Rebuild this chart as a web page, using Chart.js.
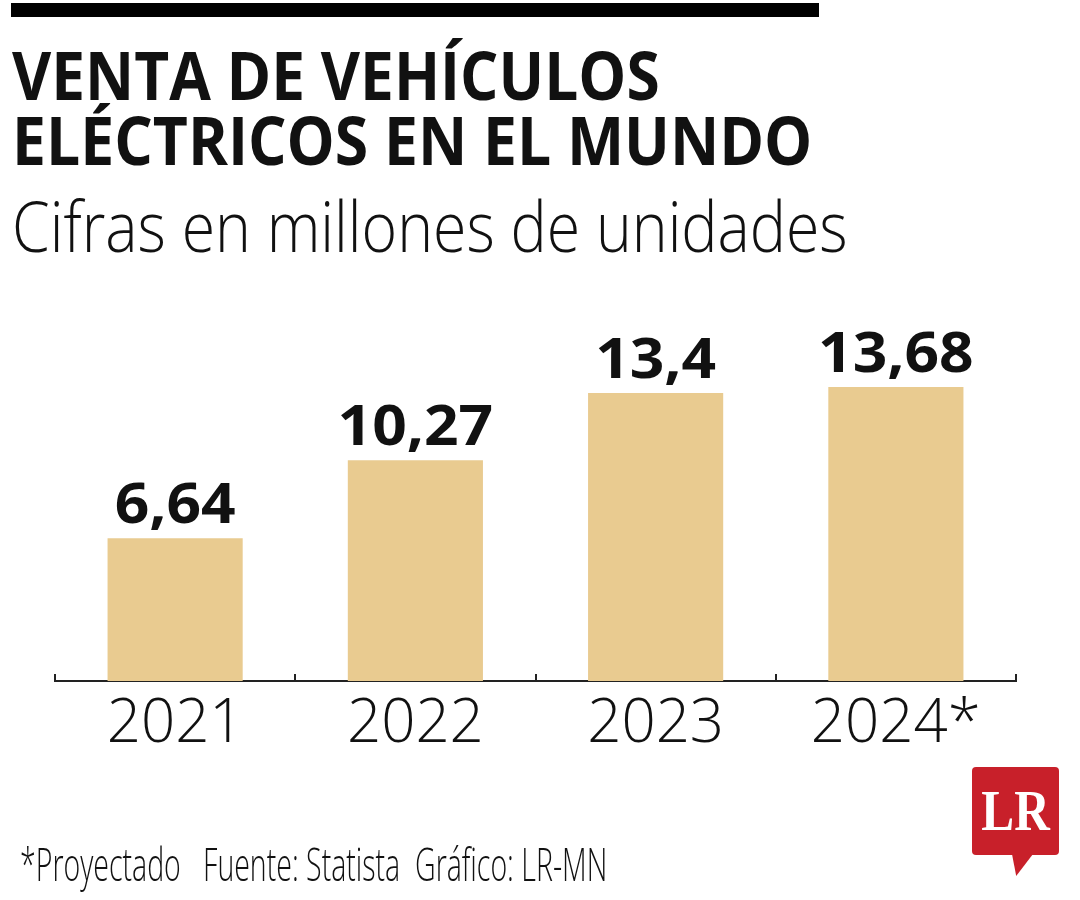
<!DOCTYPE html>
<html lang="es">
<head>
<meta charset="utf-8">
<title>Venta de vehículos eléctricos en el mundo</title>
<script src="https://cdn.jsdelivr.net/npm/chart.js@4"></script>
<style>
  html, body { margin: 0; padding: 0; background: #fff; }
  body { width: 1080px; height: 900px; position: relative; overflow: hidden; font-family: "Open Sans", sans-serif; }
  #chart { position: absolute; left: 0; top: 0; }
  .txt { position: absolute; left: 12px; white-space: nowrap; line-height: 1; color: #111; transform-origin: 0 0; }
  #topbar { position: absolute; left: 11px; top: 3px; width: 808px; height: 14px; background: #000; }
  #t1 { top: 41px; font-size: 66px; font-weight: 700; }
  #t2 { top: 106px; font-size: 66px; font-weight: 700; }
  #sub { top: 190px; font-size: 70px; font-weight: 300; }
  #foot { left: 20px; top: 840px; font-size: 46px; font-weight: 300; }
  #logo { position: absolute; left: 972px; top: 767px; width: 87px; height: 88px; background: #c8202a; border-radius: 4px; }
  #logo span { position: absolute; left: 0; width: 87px; top: 15px; text-align: center; font-family: "Liberation Serif", serif; font-weight: 700; font-size: 58px; line-height: 1; color: #fff; transform: scaleX(0.85); }
  #tail { position: absolute; left: 1012px; top: 854px; width: 21px; height: 22px; background: #c8202a; clip-path: polygon(0 0, 100% 0, 20% 100%); }
</style>
</head>
<body>
<canvas id="chart" width="1080" height="900"></canvas>
<div id="topbar"></div>
<div class="txt" id="t1">VENTA DE VEHÍCULOS</div>
<div class="txt" id="t2">ELÉCTRICOS EN EL MUNDO</div>
<div class="txt" id="sub">Cifras en millones de unidades</div>
<div class="txt" id="foot">*Proyectado&nbsp;&nbsp;&nbsp;Fuente: Statista&nbsp;&nbsp;Gráfico: LR-MN</div>
<div id="logo"><span>LR</span></div>
<div id="tail"></div>
<script>
// Datos: ventas en millones de unidades
const years = ['2021', '2022', '2023', '2024*'];
const ventas = [6.64, 10.27, 13.4, 13.68];
const yMax = 18;

// ajustar ancho de los textos al original
function fitWidth(id, w) {
    const el = document.getElementById(id);
    el.style.transform = 'scaleX(' + (w / el.offsetWidth) + ')';
}
fitWidth('t1', 648);
fitWidth('t2', 800);
fitWidth('sub', 836);
fitWidth('foot', 587);

// etiquetas de valor encima de cada barra
const valueLabels = {
    id: 'valueLabels',
    afterDatasetsDraw(chart) {
        const ctx = chart.ctx;
        const meta = chart.getDatasetMeta(0);
        ctx.save();
        ctx.fillStyle = '#111';
        ctx.font = 'bold 56px "Open Sans"';
        ctx.textAlign = 'center';
        ctx.textBaseline = 'alphabetic';
        meta.data.forEach(function (bar, i) {
            const txt = String(ventas[i]).replace('.', ',');
            ctx.save();
            ctx.translate(bar.x, bar.y - 15);
            ctx.scale(1.08, 1);
            ctx.fillText(txt, 0, 0);
            ctx.restore();
        });
        ctx.restore();
    }
};

// marcas del eje entre categorías, hacia arriba
const axisTicks = {
    id: 'axisTicks',
    afterDraw(chart) {
        const x = chart.scales.x;
        const ctx = chart.ctx;
        const n = years.length;
        ctx.save();
        ctx.strokeStyle = '#222';
        ctx.lineWidth = 2;
        for (let i = 0; i <= n; i++) {
            const px = Math.round(x.left + i * (x.width / n));
            ctx.beginPath();
            ctx.moveTo(px, x.top - 7);
            ctx.lineTo(px, x.top + 1);
            ctx.stroke();
        }
        ctx.restore();
    }
};

const ctx = document.getElementById('chart').getContext('2d');
const chart = new Chart(ctx, {
    type: 'bar',
    data: {
        labels: years,
        datasets: [{
            data: ventas,
            backgroundColor: '#e9cb90',
            borderWidth: 0,
            barPercentage: 0.5625,
            categoryPercentage: 1
        }]
    },
    options: {
        responsive: false,
        animation: false,
        layout: { padding: { top: 294, left: 55, right: 64, bottom: 129 } },
        plugins: { legend: { display: false }, tooltip: { enabled: false } },
        scales: {
            x: {
                grid: { display: false, drawTicks: false },
                border: { display: true, color: '#222', width: 2 },
                ticks: {
                    color: '#111',
                    padding: 8,
                    font: { family: 'Open Sans', size: 60, weight: 300 }
                },
                afterFit: function (scale) { scale.height = 90; }
            },
            y: {
                display: false,
                min: 0,
                max: yMax
            }
        }
    },
    plugins: [valueLabels, axisTicks]
});
</script>
</body>
</html>
